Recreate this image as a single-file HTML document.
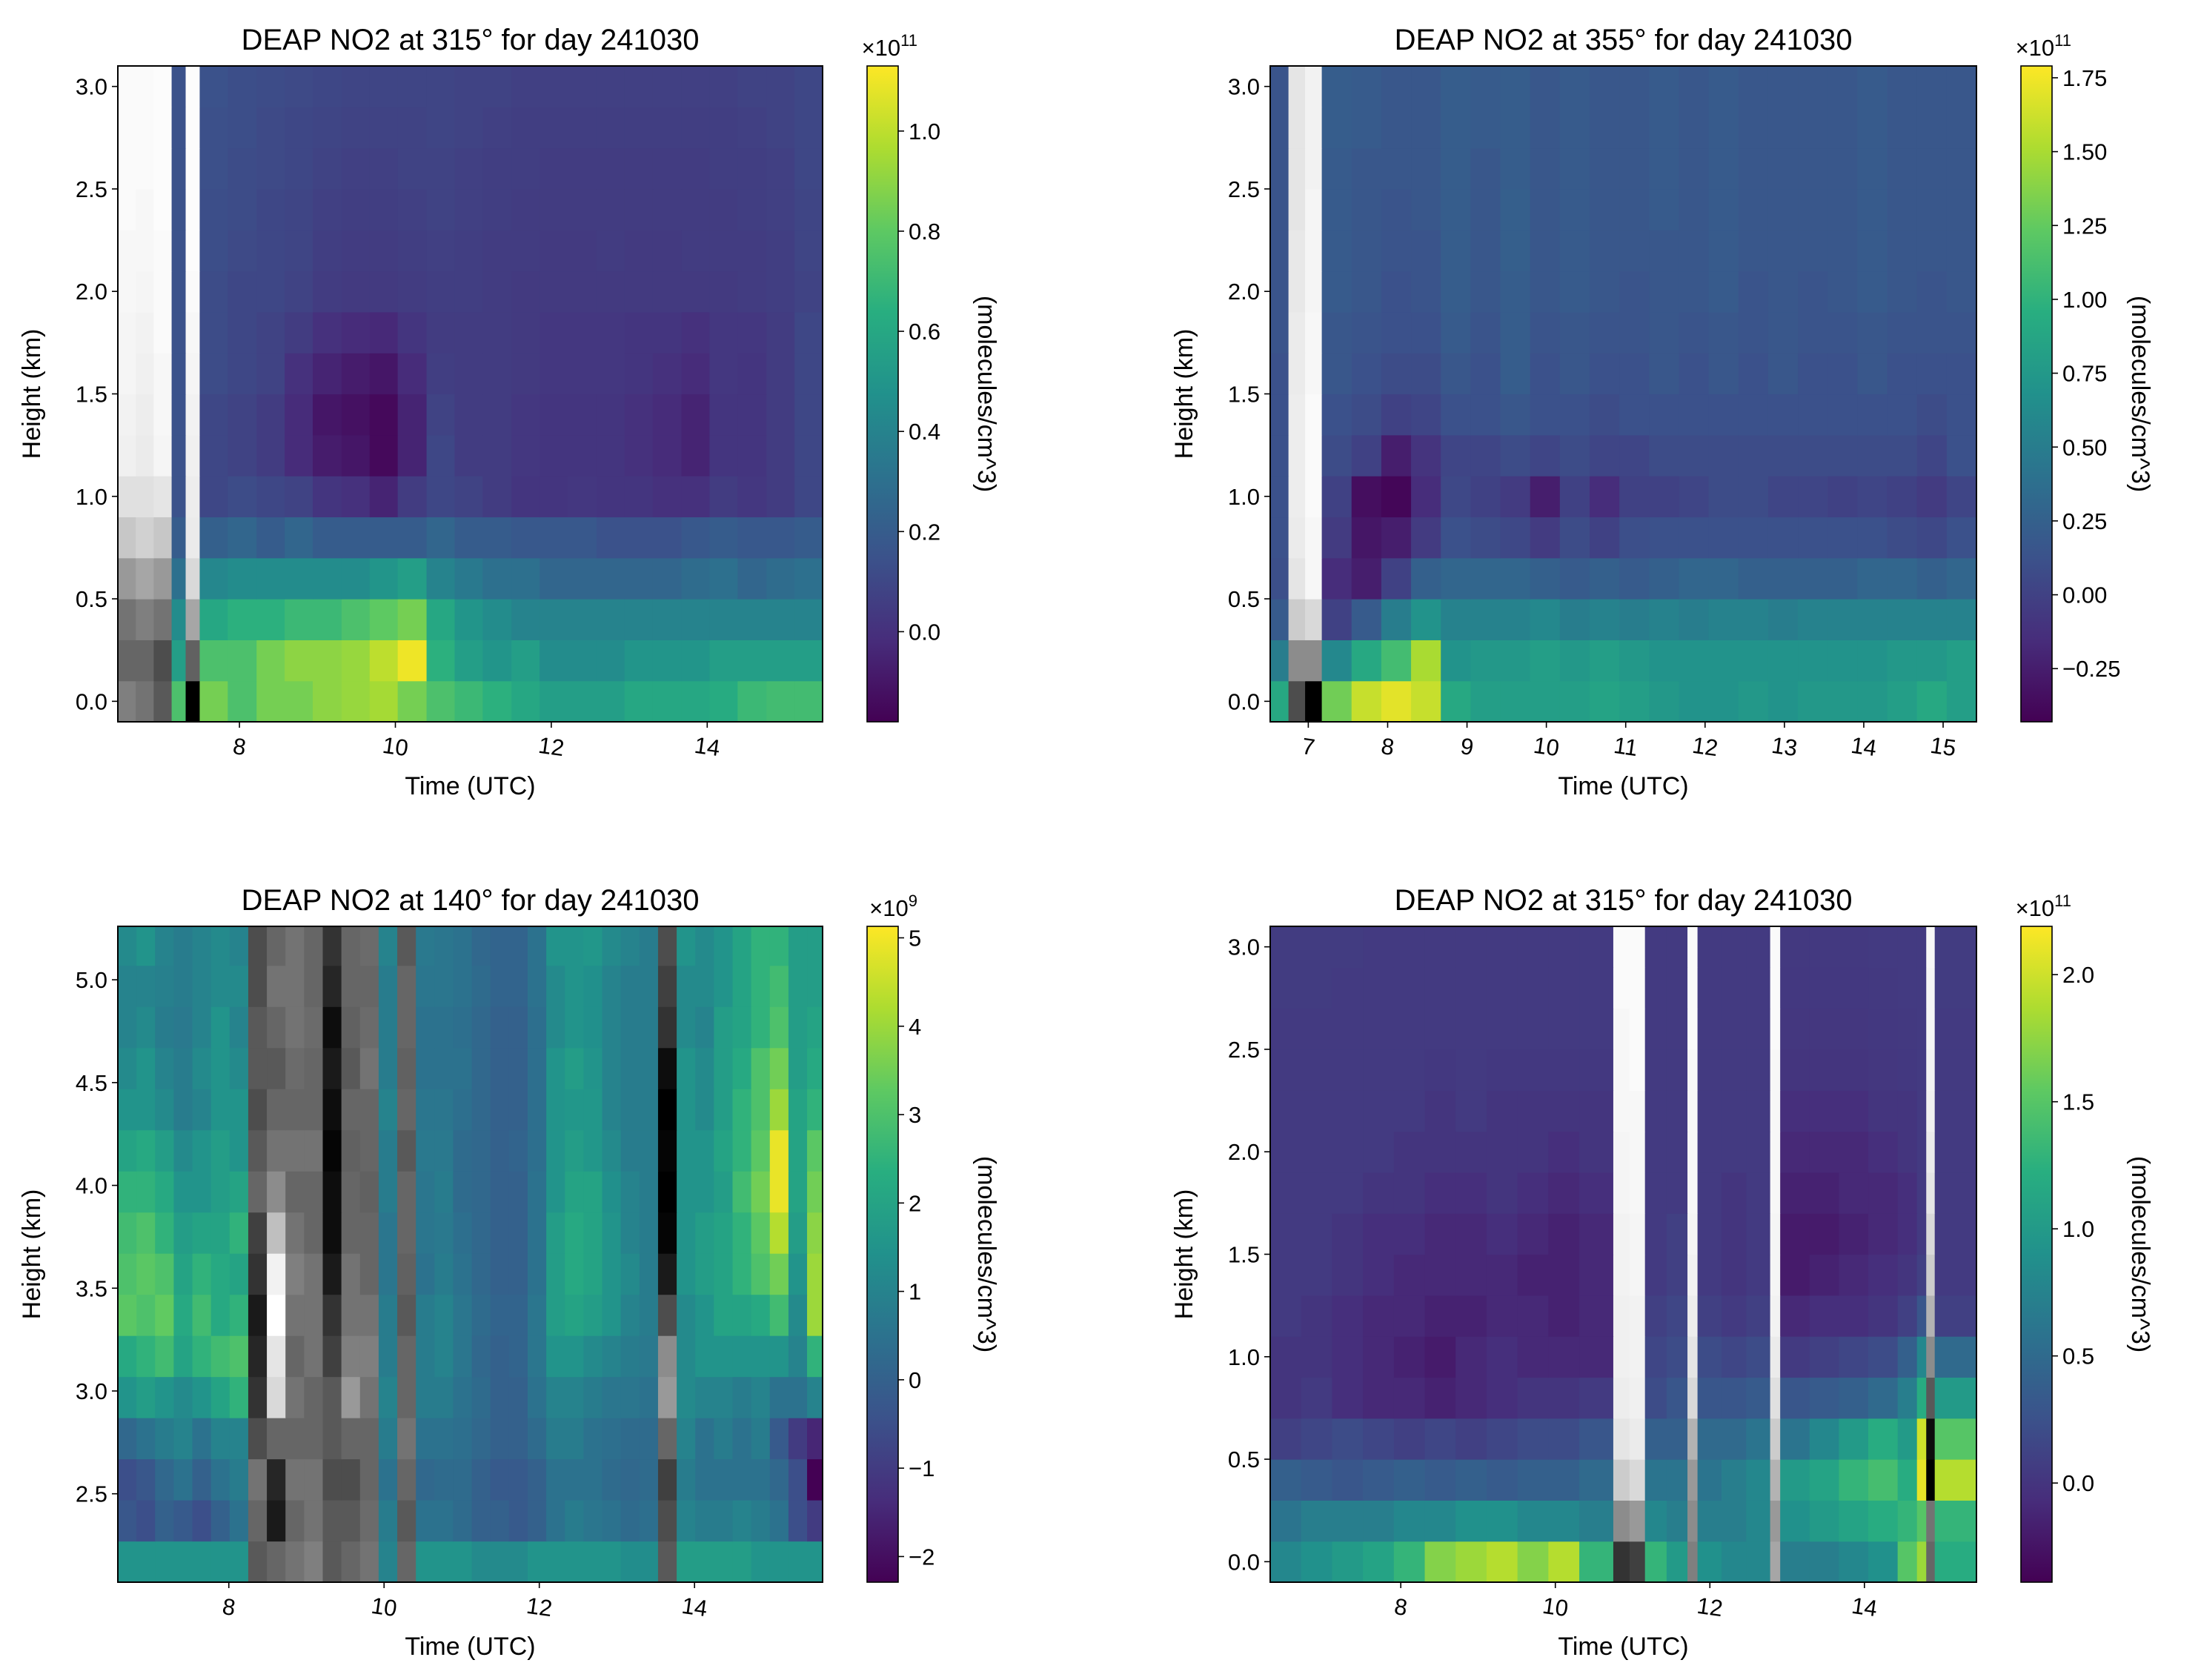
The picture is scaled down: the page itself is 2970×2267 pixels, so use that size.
<!DOCTYPE html>
<html><head><meta charset="utf-8">
<style>
html,body{margin:0;padding:0;background:#fff;}
svg{display:block;font-family:"Liberation Sans","DejaVu Sans",sans-serif;}
</style></head>
<body>
<svg id="fig" width="2970" height="2267" viewBox="0 0 2970 2267" xmlns="http://www.w3.org/2000/svg">
<rect width="2970" height="2267" fill="#fff"/>
</svg>
<script>
// ---------- Panel 1 data (315°, top-left) ----------
const p1TimeEdges = [6.44,6.67,6.90,7.13,7.31,7.49,7.85,8.22,8.58,8.94,9.31,9.67,10.03,10.40,10.76,11.12,11.49,11.85,12.21,12.58,12.94,13.30,13.67,14.03,14.39,14.76,15.12,15.48];
const p1Rows = [
["g50","g45","g35",.75,"g0",.85,.75,.85,.85,.9,.92,.95,.85,.75,.7,.65,.6,.55,.55,.55,.6,.6,.6,.62,.7,.72,.72],
["g40","g40","g30",.55,"g38",.75,.75,.85,.9,.9,.92,1.0,1.1,.65,.55,.5,.55,.45,.45,.45,.5,.5,.5,.55,.55,.55,.55],
["g45","g50","g45",.45,"g65",.6,.65,.65,.7,.7,.75,.8,.85,.6,.5,.45,.4,.4,.4,.4,.4,.4,.4,.4,.4,.4,.4],
["g60","g65","g60",.3,"g85",.42,.45,.45,.45,.45,.45,.5,.55,.4,.35,.3,.3,.25,.25,.25,.25,.25,.28,.3,.25,.28,.3],
["g78","g82","g78",.2,"g92",.22,.25,.2,.25,.2,.2,.2,.2,.25,.2,.2,.18,.18,.18,.15,.15,.15,.18,.2,.18,.18,.2],
["g88","g88","g90",.15,"g93",.1,.12,.1,.08,.02,0,-.05,.05,.1,.08,.05,.02,.02,.03,.02,.02,0,0,.05,.03,.05,.1],
["g94","g92","g96",.15,"g94",.1,.08,.05,-.02,-.08,-.1,-.15,-.05,.1,.05,.05,.03,.02,.02,.02,0,-.02,-.05,.02,.02,.05,.1],
["g95","g93","g97",.15,"g95",.1,.08,.05,-.02,-.1,-.12,-.15,-.05,.08,.05,.05,.03,.02,.02,.02,0,-.02,-.05,.02,.02,.05,.1],
["g96","g94","g97",.15,"g96",.12,.1,.08,0,-.05,-.08,-.1,-.02,.06,.05,.05,.04,.03,.03,.03,.02,0,-.02,.03,.02,.05,.1],
["g96","g95","g98",.15,"g97",.12,.1,.08,.05,0,-.02,-.03,.02,.05,.05,.05,.04,.03,.03,.03,.02,.02,0,.03,.03,.05,.1],
["g97","g96","g98",.15,"g98",.12,.1,.1,.08,.05,.04,.04,.05,.06,.06,.05,.04,.04,.04,.04,.04,.04,.04,.04,.05,.06,.08],
["g97","g97","g98",.15,"g99",.13,.11,.1,.09,.06,.05,.05,.06,.07,.06,.05,.05,.04,.04,.05,.04,.04,.05,.05,.05,.06,.09],
["g98","g97","g99",.15,"g99",.13,.12,.1,.09,.07,.06,.06,.07,.08,.07,.06,.05,.05,.05,.05,.05,.05,.05,.05,.06,.07,.09],
["g98","g98","g99",.15,"g99",.14,.12,.11,.1,.08,.07,.07,.08,.08,.07,.06,.06,.05,.05,.05,.05,.05,.05,.06,.06,.07,.1],
["g98","g98","g99",.15,"g99",.14,.13,.11,.1,.09,.08,.08,.08,.09,.08,.07,.06,.06,.06,.06,.06,.06,.06,.06,.07,.08,.1],
["g98","g98","g99",.15,"g99",.15,.13,.12,.11,.1,.09,.09,.09,.09,.08,.08,.07,.07,.07,.07,.07,.07,.07,.07,.08,.08,.1]
];
const p1XTicks = [8,10,12,14];
const p1YTicks = [0.0,0.5,1.0,1.5,2.0,2.5,3.0];
const p1CbTicks = [0.0,0.2,0.4,0.6,0.8,1.0];

// ---------- Panel 2 data (355°, top-right) ----------
const p2TimeEdges = [6.52,6.75,6.96,7.17,7.545,7.92,8.295,8.67,9.045,9.42,9.795,10.17,10.545,10.92,11.295,11.67,12.045,12.42,12.795,13.17,13.545,13.92,14.295,14.67,15.045,15.42];
const p2Rows = [
[.9,"g30","g0",1.3,1.6,1.7,1.6,.9,.8,.8,.8,.8,.85,.8,.75,.7,.7,.75,.7,.75,.75,.75,.8,.9,.8],
[.5,"g55","g55",.6,.9,1.1,1.5,.7,.75,.75,.8,.75,.8,.75,.7,.7,.7,.7,.7,.7,.7,.7,.75,.75,.8],
[.2,"g80","g85",0,.2,.5,.7,.55,.55,.55,.6,.5,.55,.5,.55,.5,.55,.55,.5,.55,.55,.55,.55,.55,.55],
[.1,"g90","g97",-.15,-.25,0,.25,.3,.3,.3,.25,.2,.25,.2,.25,.3,.3,.25,.25,.25,.25,.3,.3,.25,.3],
[.12,"g92","g97",-.05,-.3,-.25,-.05,.12,.08,.05,-.05,.08,0,.1,.12,.12,.12,.12,.12,.12,.12,.12,.08,.05,.12],
[.12,"g93","g98",0,-.35,-.4,-.15,.05,0,-.05,-.25,0,-.15,0,0,.03,.08,.08,.03,.03,0,.03,0,-.05,.03],
[.12,"g93","g98",.08,0,-.25,-.1,.03,.03,.08,.03,.08,.03,.03,.08,.08,.08,.08,.08,.08,.08,.08,.08,.03,.12],
[.12,"g93","g98",.12,.08,0,.03,.12,.12,.17,.12,.12,.08,.12,.12,.12,.12,.12,.12,.12,.12,.12,.12,.08,.12],
[.12,"g92","g97",.17,.12,.08,.08,.17,.12,.22,.12,.17,.12,.12,.17,.12,.17,.12,.17,.12,.12,.17,.12,.12,.12],
[.14,"g92","g97",.17,.14,.12,.12,.2,.14,.22,.14,.17,.14,.14,.17,.14,.17,.14,.17,.14,.14,.17,.14,.14,.14],
[.14,"g91","g96",.2,.17,.12,.14,.22,.17,.22,.17,.2,.17,.14,.17,.17,.2,.14,.17,.14,.17,.2,.17,.14,.17],
[.14,"g91","g96",.2,.17,.14,.14,.22,.17,.24,.17,.2,.17,.17,.17,.17,.2,.17,.17,.17,.17,.2,.17,.17,.17],
[.14,"g90","g96",.2,.17,.14,.17,.22,.17,.24,.17,.2,.17,.17,.2,.17,.2,.17,.17,.17,.17,.2,.17,.17,.17],
[.14,"g90","g95",.2,.17,.17,.17,.22,.17,.22,.17,.2,.17,.17,.2,.17,.2,.17,.17,.17,.17,.2,.17,.17,.17],
[.14,"g90","g95",.22,.2,.17,.17,.22,.2,.22,.17,.2,.17,.17,.2,.17,.2,.17,.17,.17,.17,.2,.17,.17,.17],
[.14,"g90","g95",.22,.2,.17,.17,.22,.2,.22,.17,.2,.17,.17,.2,.17,.2,.17,.17,.17,.17,.2,.17,.17,.17]
];
const p2XTicks = [7,8,9,10,11,12,13,14,15];
const p2YTicks = [0.0,0.5,1.0,1.5,2.0,2.5,3.0];
const p2CbTicks = [-0.25,0.00,0.25,0.50,0.75,1.00,1.25,1.50,1.75];

// ---------- Panel 3 data (140°, bottom-left), column-major bottom->top ----------
const p3TimeEdges = [6.57,6.81,7.05,7.29,7.53,7.77,8.01,8.25,8.49,8.73,8.97,9.21,9.45,9.69,9.93,10.17,10.41,10.65,10.89,11.13,11.37,11.61,11.85,12.09,12.33,12.57,12.81,13.05,13.29,13.53,13.77,14.01,14.25,14.49,14.73,14.97,15.21,15.45,15.69];
const p3Columns = [
[1.5,-0.3,-0.5,0.2,1.5,2.2,3.2,3.0,2.8,2.5,2.0,1.5,1.2,1.0,1.0,1.2],
[1.5,-0.5,-0.3,0.5,1.8,2.5,3.0,3.2,3.0,2.5,2.2,1.5,1.5,1.2,1.0,1.5],
[1.5,0,0.2,0.8,1.5,2.8,3.3,3.0,2.5,2.2,1.8,1.2,1.0,0.8,0.9,1.0],
[1.5,-0.2,0.5,1.0,1.2,2.0,2.2,2.0,1.8,1.5,1.2,0.8,0.8,0.7,0.8,0.8],
[1.5,-0.5,0,0.5,1.5,2.5,2.8,2.5,2.0,1.5,1.5,1.0,1.2,1.0,1.0,1.0],
[1.5,0,0.5,1.0,2.0,2.8,2.2,2.2,2.0,1.8,1.8,1.5,1.5,1.5,1.2,1.2],
[1.5,0.5,0.8,1.0,2.5,3.0,2.5,2.0,2.5,2.0,1.5,1.5,1.2,1.0,1.2,1.0],
["g35","g40","g45","g30","g20","g15","g10","g20","g25","g40","g35","g30","g35","g35","g30","g30"],
["g40","g10","g15","g40","g85","g90","g100","g95","g75","g55","g45","g40","g35","g40","g45","g40"],
["g45","g40","g45","g40","g45","g40","g45","g50","g45","g40","g45","g40","g42","g45","g45","g45"],
["g50","g45","g45","g40","g40","g45","g45","g45","g40","g40","g45","g40","g40","g42","g40","g40"],
["g35","g35","g30","g35","g35","g25","g20","g10","g5","g5","g2","g5","g10","g5","g15","g20"],
["g40","g35","g30","g40","g60","g50","g45","g45","g40","g40","g38","g40","g35","g38","g40","g40"],
["g45","g42","g40","g40","g45","g50","g45","g40","g40","g38","g40","g40","g45","g42","g40","g42"],
[1.0,0.8,0.5,0.8,1.0,0.8,0.8,0.6,0.6,0.8,0.8,1.0,0.8,0.8,0.8,1.0],
["g40","g35","g40","g45","g40","g40","g35","g38","g40","g40","g35","g40","g38","g40","g40","g35"],
[1.5,0.5,0.2,0.5,0.8,0.8,0.8,0.5,0.6,0.6,0.7,0.6,0.5,0.5,0.6,0.7],
[1.5,0.5,0.3,0.5,0.8,1.0,1.0,0.8,0.7,0.8,0.7,0.6,0.5,0.5,0.6,0.6],
[1.5,0.3,0.3,0.4,0.5,0.6,0.6,0.5,0.4,0.3,0.3,0.4,0.5,0.4,0.5,0.5],
[1.2,0,0,0.2,0.3,0.2,0.3,0.2,0.2,0.2,0.2,0.2,0.2,0.2,0.3,0.2],
[1.2,0,-0.2,0,0,0,0.1,0,0,0,0,0,0,0,0.1,0.1],
[1.2,-0.2,-0.2,0,0,0.1,0.1,0,0,0,0.1,0,0,0,0.1,0.1],
[1.5,0,0,0.3,0.5,0.6,0.6,0.5,0.5,0.5,0.4,0.4,0.4,0.4,0.5,0.5],
[1.5,0.5,0.5,0.8,1.0,1.5,1.8,1.8,1.8,1.5,1.5,1.5,1.5,1.2,1.2,1.5],
[1.5,0.8,0.5,0.8,1.0,1.5,2.0,2.2,2.2,2.0,1.8,1.6,1.8,1.5,1.5,1.5],
[1.5,0.6,0.5,0.5,0.8,1.2,1.8,2.0,2.0,2.0,1.6,1.6,1.5,1.4,1.4,1.6],
[1.5,0.5,0.3,0.4,0.6,1.0,1.5,1.5,1.5,1.4,1.2,1.0,1.0,1.0,1.0,1.2],
[1.3,0.3,0.2,0.3,0.6,0.8,1.0,1.2,1.0,1.0,0.8,0.8,0.8,0.8,0.8,1.0],
[1.3,0.4,0.3,0.3,0.5,0.7,0.8,0.8,0.8,0.8,0.8,0.8,0.8,0.8,0.8,0.8],
["g35","g30","g25","g40","g60","g55","g30","g10","g2","g0","g2","g0","g5","g20","g25","g30"],
[1.8,1.0,0.8,1.0,1.2,1.2,1.2,1.5,1.5,1.5,1.5,1.5,1.5,1.2,1.2,1.5],
[1.8,0.8,0.5,0.5,1.0,1.5,1.5,1.8,1.8,1.5,1.5,1.2,1.2,1.0,1.2,1.2],
[1.8,0.8,0.5,0.8,1.0,1.5,2.0,2.0,2.0,1.8,2.0,1.8,1.8,1.8,1.5,1.5],
[1.8,1.0,0.5,0.5,0.8,1.5,2.0,2.5,2.5,2.8,2.5,2.5,2.2,2.0,2.0,2.0],
[1.5,0.8,0.5,0.8,1.0,1.5,2.2,3.0,3.2,3.5,3.2,3.0,3.0,2.5,2.5,2.5],
[1.5,0.5,0.2,-0.2,0.5,1.5,2.8,3.5,4.3,4.9,4.9,4.0,3.5,3.0,2.8,2.5],
[1.5,-0.5,-0.5,-1.0,0.5,1.0,1.2,1.5,1.8,2.0,2.0,2.0,1.8,1.8,1.8,1.8],
[1.5,-1.0,-2.3,-1.5,1.0,2.5,4.0,4.0,3.8,3.5,3.2,2.5,2.2,2.0,1.8,1.8]
];
const p3XTicks = [8,10,12,14];
const p3YTicks = [2.5,3.0,3.5,4.0,4.5,5.0];
const p3CbTicks = [-2,-1,0,1,2,3,4,5];

// ---------- Panel 4 data (315°, bottom-right) ----------
const p4TimeEdges = [6.31,6.71,7.11,7.51,7.91,8.31,8.71,9.11,9.51,9.91,10.31,10.75,10.96,11.16,11.44,11.71,11.84,12.15,12.47,12.78,12.91,13.29,13.67,14.05,14.43,14.68,14.80,14.91,15.45];
const p4Rows = [
[.8,.9,1.0,1.1,1.3,1.7,1.8,1.9,1.7,1.9,1.3,"g20","g25",1.3,1.0,"g50",.9,.8,.8,"g65",.7,.7,.8,.9,1.5,1.8,"g40",1.2],
[.6,.7,.7,.7,.8,.8,.9,.9,.8,.8,.7,"g55","g60",.8,.7,"g55",.7,.7,.8,"g60",.9,1.0,1.1,1.2,1.3,1.5,"g45",1.3],
[.4,.35,.3,.35,.4,.35,.4,.35,.4,.4,.5,"g80","g85",.6,.6,"g60",.6,.7,.8,"g70",1.0,1.1,1.3,1.4,1.2,2.1,"g0",1.9],
[.1,.15,.2,.15,.1,.15,.1,.15,.2,.2,.3,"g90","g92",.4,.4,"g70",.5,.5,.6,"g80",.6,.8,1.0,1.2,1.0,2.0,"g5",1.5],
[0,.05,-.05,-.1,-.1,-.15,-.1,-.05,0,0,.05,"g93","g94",.2,.3,"g85",.3,.3,.35,"g88",.3,.35,.4,.5,.7,1.2,"g35",1.0],
[0,0,-.05,-.1,-.15,-.2,-.1,-.05,-.1,-.1,-.1,"g94","g95",.15,.2,"g90",.2,.15,.2,"g92",.05,.1,.15,.2,.4,.8,"g55",.5],
[.05,0,-.05,-.1,-.1,-.15,-.15,-.1,-.1,-.15,-.1,"g94","g95",.1,.15,"g93",.1,.05,.1,"g95",-.1,-.05,-.05,0,.1,.3,"g70",.1],
[.05,.05,0,-.05,-.1,-.1,-.1,-.1,-.15,-.15,-.1,"g95","g96",.05,.1,"g95",.05,0,.05,"g96",-.2,-.15,-.1,-.05,0,.1,"g80",.05],
[.05,.05,0,-.05,-.05,-.1,-.1,-.05,-.1,-.15,-.1,"g95","g96",.05,.1,"g96",.05,0,.05,"g96",-.2,-.2,-.15,-.1,-.05,.05,"g85",.05],
[.05,.05,.05,0,0,-.05,-.05,0,-.05,-.1,-.05,"g96","g97",.05,.05,"g97",.05,0,.05,"g97",-.15,-.15,-.1,-.1,-.05,.05,"g90",.05],
[.05,.05,.05,.05,0,0,0,0,0,-.05,0,"g96","g97",.05,.05,"g97",.05,.05,.05,"g97",-.1,-.1,-.1,-.05,0,.05,"g92",.05],
[.05,.05,.05,.05,.05,0,.05,0,0,0,0,"g97","g97",.05,.05,"g97",.05,.05,.05,"g97",-.05,-.05,-.05,0,0,.05,"g94",.05],
[.05,.05,.05,.05,.05,.03,.05,.03,.03,.03,.03,"g97","g98",.05,.05,"g97",.05,.05,.05,"g97",0,0,0,.02,.03,.05,"g95",.05],
[.05,.05,.05,.05,.05,.05,.05,.05,.05,.05,.05,"g97","g98",.05,.05,"g98",.05,.05,.05,"g98",.02,.02,.02,.03,.04,.05,"g96",.05],
[.06,.06,.05,.05,.05,.05,.05,.05,.05,.05,.05,"g98","g98",.05,.05,"g98",.05,.05,.05,"g98",.03,.03,.03,.04,.05,.05,"g96",.06],
[.06,.06,.06,.05,.05,.05,.05,.05,.05,.05,.05,"g98","g98",.05,.05,"g98",.05,.05,.05,"g98",.04,.04,.04,.05,.05,.05,"g97",.06]
];
const p4XTicks = [8,10,12,14];
const p4YTicks = [0.0,0.5,1.0,1.5,2.0,2.5,3.0];
const p4CbTicks = [0.0,0.5,1.0,1.5,2.0];

// ---------- rendering ----------
const NS = "http://www.w3.org/2000/svg";
const svg = document.getElementById("fig");
const VIR = ["#440154","#472d7b","#3b528b","#2c728e","#21918c","#28ae80","#5ec962","#addc30","#fde725"];
function hex(c){return [parseInt(c.slice(1,3),16),parseInt(c.slice(3,5),16),parseInt(c.slice(5,7),16)];}
function viridis(t){
  t=Math.max(0,Math.min(1,t)); const f=t*8; const i=Math.min(7,Math.floor(f)); const u=f-i;
  const a=hex(VIR[i]), b=hex(VIR[i+1]);
  return "rgb("+a.map((v,k)=>Math.round(v+(b[k]-v)*u)).join(",")+")";
}
function el(tag, attrs, parent){const e=document.createElementNS(NS,tag);for(const k in attrs)e.setAttribute(k,attrs[k]);(parent||svg).appendChild(e);return e;}
function fmt(v,dec){return v.toFixed(dec).replace("-","\u2212");}

const FT=31, FL=34, FTI=40;

function panel(cfg){
  const g=el("g",{});
  
  
  const {L,T,W,H,t0,t1,h0,h1,vmin,vmax}=cfg;
  const xs=t=>L+(t-t0)/(t1-t0)*W;
  const ys=h=>T+H-(h-h0)/(h1-h0)*H;
  const cv=v=>(v-vmin)/(vmax-vmin);
  const clipId="clip"+cfg.id;
  const cp=el("clipPath",{id:clipId},g); el("rect",{x:L,y:T,width:W,height:H},cp);
  const hm=el("g",{"clip-path":"url(#"+clipId+")"},g);
  
  
  const nR=cfg.nRows;
  for(let r=0;r<nR;r++){
    for(let c=0;c<cfg.edges.length-1;c++){
      const v=cfg.get(r,c);
      let fill;
      if(typeof v==="string"){const l=Math.round(parseFloat(v.slice(1))*2.55);fill="rgb("+l+","+l+","+l+")";}
      else fill=viridis(cv(v));
      const x0=xs(cfg.edges[c]), x1=xs(cfg.edges[c+1]);
      const yTop=ys(cfg.rowStart+(r+1)*cfg.rowStep), yBot=ys(cfg.rowStart+r*cfg.rowStep);
      const rc=el("rect",{x:x0.toFixed(2),y:yTop.toFixed(2),width:(x1-x0+0.6).toFixed(2),height:(yBot-yTop+0.6).toFixed(2),fill:fill},hm);
      
      
    }
  }
  const fr=el("rect",{x:L,y:T,width:W,height:H,fill:"none",stroke:"#000","stroke-width":2},g);
  
  
  cfg.xt.forEach(t=>{
    const x=xs(t);
    el("line",{x1:x,y1:T+H,x2:x,y2:T+H+8,stroke:"#000","stroke-width":1.6},g);
    const tx=el("text",{x:x,y:T+H+44,"font-size":FT,"text-anchor":"middle",fill:"#000",transform:"rotate(8 "+x+" "+(T+H+34)+")"},g);
    tx.textContent=String(t);
    
    
  });
  cfg.yt.forEach(h=>{
    const y=ys(h);
    el("line",{x1:L-8,y1:y,x2:L,y2:y,stroke:"#000","stroke-width":1.6},g);
    const tx=el("text",{x:L-14,y:y+11,"font-size":FT,"text-anchor":"end",fill:"#000"},g);
    tx.textContent=h.toFixed(1);
    
    
  });
  const title=el("text",{x:L+W/2,y:T-22,"font-size":FTI,"text-anchor":"middle",fill:"#000"},g);
  title.textContent=cfg.title;
  
  
  const xl=el("text",{x:L+W/2,y:T+H+98,"font-size":FL,"text-anchor":"middle",fill:"#000"},g);
  xl.textContent="Time (UTC)";
  
  
  const yl=el("text",{x:0,y:0,"font-size":FL,"text-anchor":"middle",fill:"#000",transform:"translate("+(L-105)+","+(T+H/2)+") rotate(-90)"},g);
  yl.textContent="Height (km)";
  
  
  const cbL=L+W+60, cbW=42;
  const gid="grad"+cfg.id;
  const lg=el("linearGradient",{id:gid,x1:0,y1:1,x2:0,y2:0},g);
  for(let i=0;i<=8;i++) el("stop",{offset:(i/8),"stop-color":VIR[i]},lg);
  const cb=el("rect",{x:cbL,y:T,width:cbW,height:H,fill:"url(#"+gid+")",stroke:"#000","stroke-width":1.6},g);
  
  
  const cby=v=>T+H-(v-vmin)/(vmax-vmin)*H;
  cfg.cbt.forEach(v=>{
    const y=cby(v);
    el("line",{x1:cbL+cbW,y1:y,x2:cbL+cbW+8,y2:y,stroke:"#000","stroke-width":1.6},g);
    const tx=el("text",{x:cbL+cbW+14,y:y+11,"font-size":FT,fill:"#000"},g);
    tx.textContent=fmt(v,cfg.cbDec);
    
    
  });
  const mult=el("text",{x:cbL+cbW+26,y:T-14,"font-size":FT,"text-anchor":"end",fill:"#000"},g);
  mult.innerHTML='×10<tspan dy="-13" font-size="22">'+cfg.exp+'</tspan>';
  
  
  const cl=el("text",{x:0,y:0,"font-size":FL,"text-anchor":"middle",fill:"#000",transform:"translate("+(cbL+cbW+108)+","+(T+H/2)+") rotate(90)"},g);
  cl.textContent="(molecules/cm^3)";
  
  
}

panel({id:1,name:"panel-315-top",title:"DEAP NO2 at 315° for day 241030",L:159,T:89,W:951,H:885,t0:6.44,t1:15.48,h0:-0.1,h1:3.1,vmin:-0.18,vmax:1.13,
  edges:p1TimeEdges,nRows:16,rowStart:-0.1,rowStep:0.2,get:(r,c)=>p1Rows[r][c],xt:p1XTicks,yt:p1YTicks,cbt:p1CbTicks,cbDec:1,exp:"11"});
panel({id:2,name:"panel-355",title:"DEAP NO2 at 355° for day 241030",L:1714,T:89,W:953,H:885,t0:6.52,t1:15.42,h0:-0.1,h1:3.1,vmin:-0.43,vmax:1.79,
  edges:p2TimeEdges,nRows:16,rowStart:-0.1,rowStep:0.2,get:(r,c)=>p2Rows[r][c],xt:p2XTicks,yt:p2YTicks,cbt:p2CbTicks,cbDec:2,exp:"11"});
panel({id:3,name:"panel-140",title:"DEAP NO2 at 140° for day 241030",L:159,T:1250,W:951,H:885,t0:6.57,t1:15.65,h0:2.07,h1:5.26,vmin:-2.29,vmax:5.13,
  edges:p3TimeEdges,nRows:16,rowStart:2.07,rowStep:0.2,get:(r,c)=>p3Columns[c][r],xt:p3XTicks,yt:p3YTicks,cbt:p3CbTicks,cbDec:0,exp:"9"});
panel({id:4,name:"panel-315-bottom",title:"DEAP NO2 at 315° for day 241030",L:1714,T:1250,W:953,H:885,t0:6.31,t1:15.45,h0:-0.1,h1:3.1,vmin:-0.39,vmax:2.19,
  edges:p4TimeEdges,nRows:16,rowStart:-0.1,rowStep:0.2,get:(r,c)=>p4Rows[r][c],xt:p4XTicks,yt:p4YTicks,cbt:p4CbTicks,cbDec:1,exp:"11"});
</script>
</body></html>
